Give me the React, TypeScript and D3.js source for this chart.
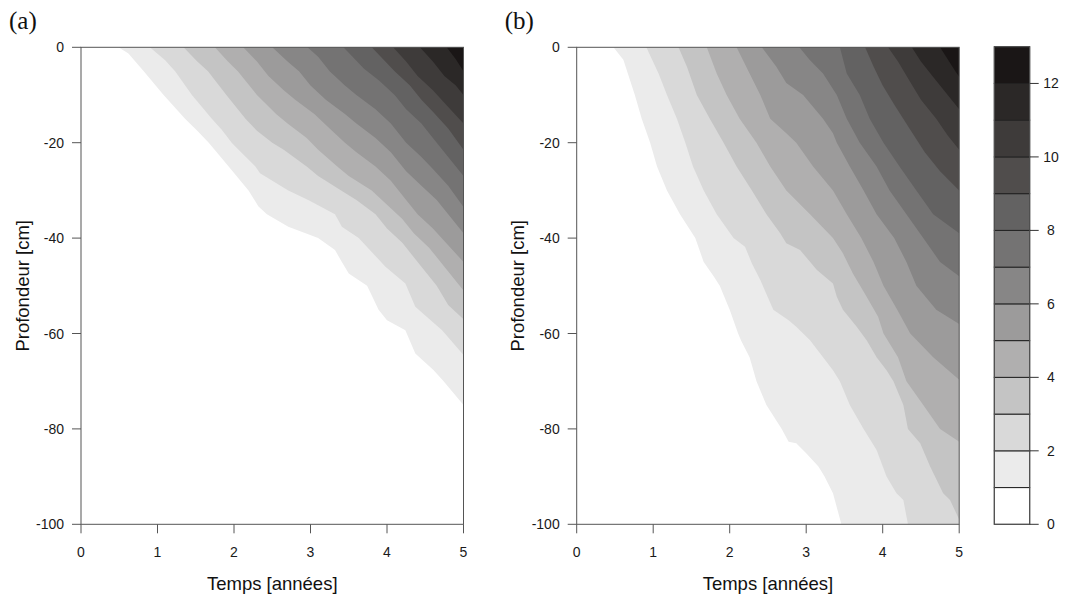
import React from "react";
import * as d3 from "d3";

// ---------- data ----------
const timeTicks = [0, 1, 2, 3, 4, 5];
const depthTicks = [0, -20, -40, -60, -80, -100];
const keyTicks = [0, 2, 4, 6, 8, 10, 12];
const keyLevels = [0, 1, 2, 3, 4, 5, 6, 7, 8, 9, 10, 11, 12, 13];
const levelColors = [
  "#ffffff", "#ebebeb", "#d9d9d9", "#c4c4c4", "#b0afaf", "#9c9b9b", "#878686",
  "#747373", "#636262", "#504d4c", "#3e3b3a", "#2b2827", "#1a1616",
];

// Panel (a): contour lines z = 1..12, as [time (years), depth (cm)]
const a1 = [[0.49,0],[0.62,-1.3],[0.82,-5],[1.08,-10],[1.36,-15],[1.52,-17.5],[1.67,-20],[1.93,-25],[2.19,-30],[2.32,-33.4],[2.43,-35],[2.71,-37.6],[3.1,-40],[3.32,-42.5],[3.41,-45],[3.5,-47.4],[3.74,-50],[3.89,-55],[4.0,-57.2],[4.24,-59.3],[4.37,-64.2],[4.61,-67.7],[4.74,-70],[5,-75]];
const a2 = [[0.9,0],[1.1,-2.7],[1.23,-5],[1.45,-10],[1.71,-15],[1.84,-17.3],[1.97,-20],[2.06,-21.5],[2.28,-25],[2.34,-26.4],[2.71,-30],[2.97,-32],[3.32,-35],[3.41,-37.6],[3.63,-40],[3.98,-46],[4.24,-49.5],[4.37,-54.4],[4.72,-59.3],[5,-64.5]];
const a3 = [[1.34,0],[1.52,-3],[1.66,-5],[1.9,-10],[2.15,-15],[2.3,-17.5],[2.5,-20],[2.65,-21.5],[2.95,-25],[3.1,-27],[3.4,-30],[3.6,-32],[3.85,-35],[4.0,-38],[4.2,-41],[4.45,-46],[4.65,-50],[4.8,-54],[5,-57]];
const a4 = [[1.75,0],[1.92,-3],[2.05,-5],[2.3,-10],[2.55,-14],[2.7,-16],[2.95,-19],[3.1,-21.5],[3.35,-25],[3.5,-27],[3.8,-30],[4.0,-33],[4.2,-36],[4.35,-39],[4.55,-42],[4.75,-46],[5,-51]];
const a5 = [[2.12,0],[2.3,-3],[2.45,-6],[2.65,-9],[2.8,-11],[3.05,-14],[3.25,-17],[3.45,-20],[3.6,-22],[3.85,-25],[4.05,-28],[4.25,-32],[4.4,-35],[4.6,-38],[4.8,-41.5],[5,-45]];
const a6 = [[2.5,0],[2.7,-3],[2.85,-5],[3.0,-8],[3.2,-11],[3.45,-14],[3.6,-16],[3.85,-19],[4.05,-22],[4.25,-26],[4.45,-29],[4.65,-32],[4.8,-35],[5,-39]];
const a7 = [[2.96,0],[3.1,-2],[3.25,-5],[3.45,-8],[3.6,-10],[3.85,-13],[4.05,-16],[4.25,-20],[4.45,-23],[4.6,-25.5],[4.8,-29],[5,-33.5]];
const a8 = [[3.43,0],[3.55,-2],[3.7,-4.5],[3.9,-7],[4.1,-10],[4.25,-13],[4.45,-16],[4.6,-19],[4.8,-23],[5,-27]];
const a9 = [[3.8,0],[3.95,-2.5],[4.1,-5],[4.3,-8],[4.45,-11],[4.6,-13.5],[4.8,-17],[5,-21.5]];
const a10 = [[4.08,0],[4.25,-3],[4.4,-6],[4.6,-9],[4.8,-12.5],[5,-16]];
const a11 = [[4.43,0],[4.6,-3],[4.75,-6],[4.9,-8],[5,-10]];
const a12 = [[4.78,0],[4.9,-2.5],[5,-5]];

// Panel (b)
const b1 = [[0.48,0],[0.61,-2.6],[0.76,-10],[0.85,-15],[0.96,-20],[1.05,-25],[1.18,-30],[1.35,-35],[1.55,-40],[1.66,-45],[1.79,-48],[1.87,-50],[2.0,-55],[2.11,-60],[2.15,-61.5],[2.26,-65],[2.35,-70],[2.48,-75],[2.68,-80],[2.77,-82.7],[2.87,-83],[3.0,-85.1],[3.16,-87.9],[3.24,-90],[3.35,-93.5],[3.46,-100]];
const b2 = [[0.91,0],[1.07,-5.5],[1.18,-10],[1.31,-15],[1.42,-20],[1.52,-25],[1.66,-30],[1.83,-35],[2.05,-40],[2.2,-41.8],[2.29,-45.3],[2.4,-48.8],[2.57,-55],[2.77,-57.2],[2.87,-58.6],[3.05,-61.4],[3.22,-65],[3.35,-67.7],[3.44,-70],[3.57,-75],[3.75,-80],[3.92,-84.4],[4.05,-90],[4.18,-93.5],[4.27,-94.9],[4.33,-100]];
const b3 = [[1.33,0],[1.44,-4],[1.57,-10],[1.74,-15],[1.92,-20],[2.09,-25],[2.29,-30],[2.48,-35],[2.66,-39],[2.74,-41.1],[2.92,-42.5],[3.14,-46.7],[3.35,-49.5],[3.4,-52.3],[3.48,-55],[3.66,-58.6],[3.79,-61.4],[3.92,-65],[4.05,-67.7],[4.14,-70],[4.27,-75],[4.33,-80],[4.49,-83],[4.62,-87.9],[4.79,-93.5],[4.88,-94.9],[5,-99]];
const b4 = [[1.7,0],[1.83,-5.5],[1.96,-10],[2.13,-15],[2.35,-20],[2.53,-25],[2.74,-30],[3.05,-35],[3.35,-40],[3.48,-43.2],[3.61,-47.4],[3.79,-52.3],[3.94,-56.5],[4.01,-60],[4.2,-65],[4.31,-70],[4.53,-75],[4.75,-80],[5,-82.7]];
const b5 = [[2.09,0],[2.26,-5.5],[2.4,-10],[2.53,-15],[2.74,-18],[2.87,-20],[3.09,-25],[3.35,-30],[3.53,-35],[3.72,-40],[3.88,-45],[4.01,-50],[4.19,-55],[4.36,-60],[4.66,-65],[5,-69.7]];
const b6 = [[2.42,0],[2.61,-4.1],[2.74,-7.5],[2.96,-10],[3.22,-15],[3.35,-18],[3.4,-20],[3.57,-25],[3.75,-30],[3.92,-35],[4.15,-40],[4.31,-45],[4.44,-50],[4.7,-55],[5,-58]];
const b7 = [[2.91,0],[3.05,-2.7],[3.22,-5.5],[3.4,-10],[3.53,-15],[3.7,-20],[3.92,-25],[4.09,-30],[4.31,-35],[4.53,-40],[4.75,-45],[5,-48]];
const b8 = [[3.44,0],[3.53,-5.5],[3.7,-10],[3.83,-15],[4.01,-20],[4.22,-25],[4.44,-30],[4.66,-35],[5,-39]];
const b9 = [[3.77,0],[3.88,-4],[4.0,-8],[4.15,-12],[4.35,-17],[4.55,-22],[4.75,-26],[5,-30]];
const b10 = [[4.07,0],[4.2,-3],[4.35,-7],[4.5,-11],[4.7,-15],[4.85,-18.5],[5,-21.5]];
const b11 = [[4.38,0],[4.5,-3],[4.65,-6],[4.8,-9],[5,-13]];
const b12 = [[4.75,0],[4.85,-2.5],[4.95,-5],[5,-6.2]];

const contoursA = [a1, a2, a3, a4, a5, a6, a7, a8, a9, a10, a11, a12];
const contoursB = [b1, b2, b3, b4, b5, b6, b7, b8, b9, b10, b11, b12];

// ---------- layout ----------
const W = 1067, H = 601;
const TOP = 47.3, BOTTOM = 524.3, PW = 382.5;
const SANS = "'Liberation Sans', Arial, Helvetica, sans-serif";
const SERIF = "'Liberation Serif', 'Times New Roman', serif";
const AXIS = "#555555";

function Panel({ x0, label, contours, id }: { x0: number; label: string; contours: number[][][]; id: string }) {
  const x = d3.scaleLinear().domain([0, 5]).range([x0, x0 + PW]);
  const y = d3.scaleLinear().domain([0, -100]).range([TOP, BOTTOM]);
  const line = d3.line<number[]>().x((p) => x(p[0])).y((p) => y(p[1]));
  const areaPath = (c: number[][]) => {
    const last = c[c.length - 1];
    const pts = [...c, [5, last[1]], [5, 0]];
    return line(pts) + "Z";
  };
  return (
    <g>
      <defs>
        <clipPath id={id}>
          <rect x={x(0)} y={y(0)} width={x(5) - x(0)} height={y(-100) - y(0)} />
        </clipPath>
      </defs>
      <rect x={x(0)} y={y(0)} width={x(5) - x(0)} height={y(-100) - y(0)} fill="#ffffff" />
      <g clipPath={`url(#${id})`}>
        {contours.map((c, i) => (
          <path key={i} d={areaPath(c)} fill={levelColors[i + 1]} stroke="none" />
        ))}
      </g>
      <rect x={x(0)} y={y(0)} width={x(5) - x(0)} height={y(-100) - y(0)} fill="none" stroke={AXIS} strokeWidth={1} />
      {timeTicks.map((t) => (
        <g key={"xt" + t}>
          <line x1={x(t)} x2={x(t)} y1={BOTTOM} y2={BOTTOM + 9} stroke={AXIS} strokeWidth={1} />
          <text x={x(t)} y={556.5} fontSize={14} fontFamily={SANS} textAnchor="middle" fill="#1a1a1a">{t}</text>
        </g>
      ))}
      {depthTicks.map((d) => (
        <g key={"yt" + d}>
          <line x1={x0 - 9} x2={x0} y1={y(d)} y2={y(d)} stroke={AXIS} strokeWidth={1} />
          <text x={x0 - 17} y={y(d)} dy="0.36em" fontSize={14} fontFamily={SANS} textAnchor="end" fill="#1a1a1a">{d}</text>
        </g>
      ))}
      <text x={x0 + PW / 2} y={590} fontSize={18.5} fontFamily={SANS} textAnchor="middle" fill="#111">Temps [années]</text>
      <text transform={`translate(${x0 - 52.5},${(TOP + BOTTOM) / 2}) rotate(-90)`} fontSize={18.5} fontFamily={SANS} textAnchor="middle" fill="#111">Profondeur [cm]</text>
      <text x={x0 - 72} y={29} fontSize={25} fontFamily={SERIF} fill="#111">{label}</text>
    </g>
  );
}

function ColorKey() {
  const ky = d3.scaleLinear().domain([0, 13]).range([BOTTOM, 46.7]);
  const kx0 = 994.3, kx1 = 1029.7;
  return (
    <g>
      {keyLevels.slice(0, -1).map((lv, i) => (
        <rect key={lv} x={kx0} y={ky(keyLevels[i + 1])} width={kx1 - kx0} height={ky(lv) - ky(keyLevels[i + 1])} fill={levelColors[i]} stroke="#222" strokeWidth={1} />
      ))}
      <rect x={kx0} y={ky(13)} width={kx1 - kx0} height={ky(0) - ky(13)} fill="none" stroke={AXIS} strokeWidth={1} />
      {keyTicks.map((v) => (
        <g key={"k" + v}>
          <line x1={kx1} x2={kx1 + 9} y1={ky(v)} y2={ky(v)} stroke="#333" strokeWidth={1} />
          <text x={1051} y={ky(v)} dy="0.36em" fontSize={14} fontFamily={SANS} textAnchor="middle" fill="#1a1a1a">{v}</text>
        </g>
      ))}
    </g>
  );
}

export default function App() {
  return (
    <svg width={W} height={H} viewBox={`0 0 ${W} ${H}`} style={{ position: "absolute", left: 0, top: 0, background: "#fff" }}>
      <rect width={W} height={H} fill="#ffffff" />
      <Panel x0={81} label="(a)" contours={contoursA} id="clipA" />
      <Panel x0={576.7} label="(b)" contours={contoursB} id="clipB" />
      <ColorKey />
    </svg>
  );
}
